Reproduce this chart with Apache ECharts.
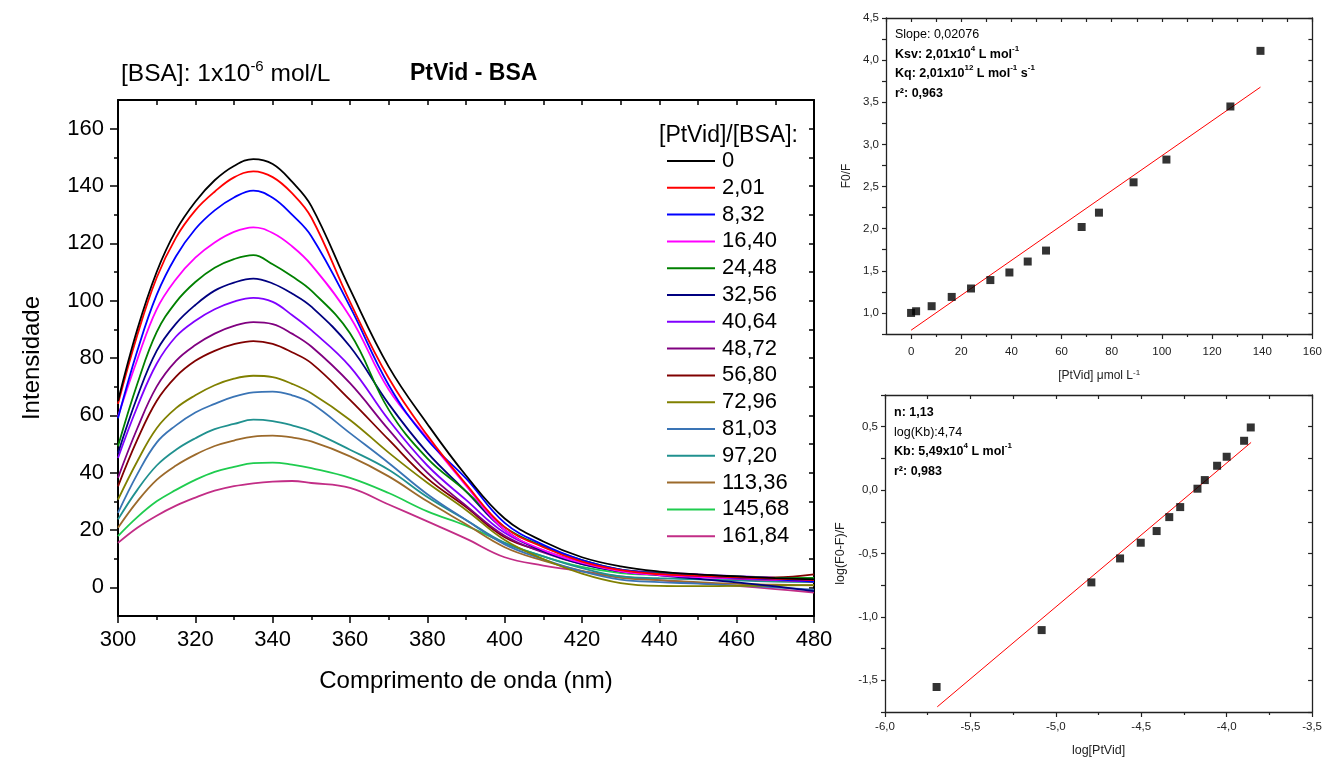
<!DOCTYPE html>
<html>
<head>
<meta charset="utf-8">
<script src="https://cdn.jsdelivr.net/npm/echarts@6/dist/echarts.min.js"></script>
<style>
html,body{margin:0;padding:0;background:#fff;}
#chart{width:1325px;height:758px;}
</style>
</head>
<body>
<div id="chart"></div>
<script>
// ---------- DATA ----------
const wavelengths = [300,305,310,315,320,325,330,335,340,345,350,360,370,380,390,400,410,420,430,440,450,460,470,480];
const ratioLabels = ['0','2,01','8,32','16,40','24,48','32,56','40,64','48,72','56,80','72,96','81,03','97,20','113,36','145,68','161,84'];
const I_0      = [65,90,110,124.5,134.5,142,147,149.4,147.7,141.5,133,104,77,57,39,24,16,10.5,7.3,5.5,4.5,3.8,3.2,2.8];
const I_2_01   = [64,88,108,122,131.5,138,143,145.1,143.1,137.5,129,99.6,73,53,36,21,14,9,6,4.6,4,3.5,3,2.5];
const I_8_32   = [59,82.5,102,115.5,125,131.5,136,138.4,135.9,130,122.5,97.9,70.6,51.5,38,22.5,14.8,9.5,6.2,4.8,4,3.3,2.8,2];
const I_16_40  = [59.6,79.5,97,107.5,115,120.3,124,125.6,123.6,119,112.5,94.4,69,52,35.5,20,13,8.5,5.6,4.3,3.6,3.1,2.6,2.2];
const I_24_48  = [49.2,71,89,99.5,106.5,111.5,114.5,115.9,112.7,108.5,103.5,88.6,62,45,33.5,21,14.3,9.5,6.2,5,4.3,3.8,3.3,3.2];
const I_32_56  = [46.8,66.5,82.5,92,98.5,103.5,106.3,107.7,106,102.5,97.9,84,64,47,33.5,20,12.6,8.1,5.6,4.2,3,1.7,0.3,-1.3];
const I_40_64  = [45.1,63,78,87.5,93,97,99.7,101,99.6,95,89.7,77,58.4,42.5,30.5,19,12.9,8.6,6.2,5.2,4.5,3.9,3.3,2.6];
const I_48_72  = [38.2,55.5,70,79,84.5,88.5,91.2,92.5,91.8,88.5,84,71.2,55,40,28.5,18,12.2,8.1,5.6,4.5,3.7,3,2.5,2];
const I_56_80  = [35.2,51.5,65,73.5,79,82.5,84.8,85.9,84.9,82,78.2,65.4,51.5,38,28,17.5,12.5,8.5,5.6,4.5,3.8,3.5,3.5,4.5];
const I_72_96  = [30.6,44,55.5,62.5,67,70.5,72.8,73.8,73.3,71,67.7,58.4,47,36.5,27,16.5,9.9,4.8,1.5,0.5,0.4,0.5,0.6,0.8];
const I_81_03  = [26,39.5,50.5,56.5,61,64,66.5,68,68.3,67,64.2,53.8,43.4,32.5,23.5,15,9.8,5.6,2.7,1.8,1.3,0.6,0,-0.8];
const I_97_20  = [23.7,34,42.5,48,52,55.2,57,58.5,58,56.5,54.4,48,41,31.5,23.5,15.5,10.8,6.7,3.8,3.2,2.8,2.4,2,1.8];
const I_113_36 = [20.8,30,37.5,42.5,46.3,49.3,51.2,52.6,52.9,52.3,50.9,45.7,38.7,30,22,14,9.3,5.7,3.3,2.5,1.8,1.2,0.9,0.7];
const I_145_68 = [17.9,24.5,30,34,37.5,40.3,42,43.3,43.5,42.8,41.6,38.2,32.9,26.5,21.5,15.5,10.8,7.1,5,4.3,3.8,3.5,3.2,3.3];
const I_161_84 = [15.5,20.8,25,28.5,31.3,33.7,35.3,36.3,36.9,37.1,36.4,34.7,28.9,23,17,10.5,7.6,5.6,3.8,2.5,1.5,0.5,-0.6,-1.8];
const curveColors = ['#000000','#FF0000','#0000FF','#FF00FF','#008000','#000080','#8000FF','#800080','#800000','#808000','#3A74B5','#20918F','#9C6A2B','#1FCC4F','#C22D86'];

const mainYTicks = [0,20,40,60,80,100,120,140,160];
const mainYMinor = [10,30,50,70,90,110,130,150];

// Stern-Volmer
const svConc  = [0, 2.0, 8.2, 16.2, 23.9, 31.6, 39.2, 46.5, 53.8, 68.0, 74.9, 88.7, 101.8, 127.3, 139.3];
const svRatio = [1.00, 1.02, 1.08, 1.19, 1.29, 1.39, 1.48, 1.61, 1.74, 2.02, 2.19, 2.55, 2.82, 3.45, 4.11];
const svFitX = [0, 139.3];
const svFitY = [0.795, 3.68];
const svXTicks = [0,20,40,60,80,100,120,140,160];
const svXMinor = [10,30,50,70,90,110,130,150];
const svYTicks = [1.0,1.5,2.0,2.5,3.0,3.5,4.0,4.5];

// Double-log
const dlLogC = [-5.698, -5.083, -4.792, -4.624, -4.503, -4.410, -4.336, -4.272, -4.171, -4.128, -4.056, -4.0, -3.898, -3.859];
const dlLogF = [-1.553, -1.104, -0.728, -0.539, -0.415, -0.323, -0.213, -0.134, 0.011, 0.079, 0.192, 0.263, 0.389, 0.494];
const dlFitX = [-5.694, -3.857];
const dlFitY = [-1.709, 0.376];
const dlYTicks = [-1.5,-1.0,-0.5,0.0,0.5];

const curves = [I_0,I_2_01,I_8_32,I_16_40,I_24_48,I_32_56,I_40_64,I_48_72,I_56_80,I_72_96,I_81_03,I_97_20,I_113_36,I_145_68,I_161_84];

// ---------- CHART ----------
const FF = 'Liberation Sans, Arial, Helvetica, sans-serif';
const comma1 = v => v.toFixed(1).replace('.', ',');
const zip = (a,b) => a.map((v,i)=>[v,b[i]]);

const chart = echarts.init(document.getElementById('chart'), null, {renderer:'canvas'});

const smallLine = {onZero:false, lineStyle:{color:'#222', width:1.3}};
const hiddenLine = {show:false, onZero:false};

const richSmall = {
  n:{fontFamily:FF, fontSize:12.5, fontWeight:'normal', color:'#000', lineHeight:19.5},
  b:{fontFamily:FF, fontSize:12.5, fontWeight:'bold', color:'#000', lineHeight:19.5},
  s:{fontFamily:FF, fontSize:8, fontWeight:'bold', color:'#000', lineHeight:12, verticalAlign:'top'}
};

const series = [];
curves.forEach((c, i) => {
  series.push({
    name: ratioLabels[i], type:'line', xAxisIndex:0, yAxisIndex:0,
    data: zip(wavelengths, c), symbol:'none', smooth:0.4,
    lineStyle:{width:1.8, color:curveColors[i]}, itemStyle:{color:curveColors[i]},
    z: 20 - i
  });
});
series.push({type:'scatter', xAxisIndex:2, yAxisIndex:3, data: zip(svConc, svRatio), symbol:'rect', symbolSize:8, itemStyle:{color:'#000'}, z:5});
series.push({type:'line', xAxisIndex:2, yAxisIndex:3, data: zip(svFitX, svFitY), symbol:'none', lineStyle:{color:'#FF0000', width:1}, z:4});
series.push({type:'scatter', xAxisIndex:5, yAxisIndex:6, data: zip(dlLogC, dlLogF), symbol:'rect', symbolSize:8, itemStyle:{color:'#000'}, z:5});
series.push({type:'line', xAxisIndex:5, yAxisIndex:6, data: zip(dlFitX, dlFitY), symbol:'none', lineStyle:{color:'#FF0000', width:1}, z:4});

const option = {
  animation:false,
  backgroundColor:'#fff',
  textStyle:{fontFamily:FF},
  title:[
    {left:116, top:54, text:'{n|[BSA]: 1x10}{s|-6}{n| mol/L}',
      textStyle:{fontWeight:'normal', rich:{
        n:{fontFamily:FF, fontSize:24.5, fontWeight:'normal', color:'#000', lineHeight:30},
        s:{fontFamily:FF, fontSize:15, fontWeight:'normal', color:'#000', lineHeight:14, verticalAlign:'top'}
      }}},
    {left:405, top:57, text:'PtVid - BSA', textStyle:{fontFamily:FF, fontSize:23, fontWeight:'bold', color:'#000'}},
    {left:654, top:119, text:'[PtVid]/[BSA]:', textStyle:{fontFamily:FF, fontSize:23, fontWeight:'normal', color:'#000'}},
    {left:890, top:20, text:'{n|Slope: 0,02076}\n{b|Ksv: 2,01x10}{s|4}{b| L mol}{s|-1}\n{b|Kq: 2,01x10}{s|12}{b| L mol}{s|-1}{b| s}{s|-1}\n{b|r²: 0,963}',
      textStyle:{fontWeight:'normal', rich:richSmall}},
    {left:889, top:398, text:'{b|n: 1,13}\n{n|log(Kb):4,74}\n{b|Kb: 5,49x10}{s|4}{b| L mol}{s|-1}\n{b|r²: 0,983}',
      textStyle:{fontWeight:'normal', rich:richSmall}}
  ],
  legend:{
    data: ratioLabels, orient:'vertical', left:667, top:150, padding:0,
    icon:'rect', itemWidth:48, itemHeight:2, itemGap:4.8,
    textStyle:{fontFamily:FF, fontSize:22, color:'#000', padding:[0,0,0,2]},
    selectedMode:false
  },
  grid:[
    {left:118, top:100, width:696, height:516},
    {left:886, top:18, width:427, height:316},
    {left:885, top:395, width:428, height:317}
  ],
  xAxis:[
    // 0 main bottom
    {gridIndex:0, type:'value', position:'bottom', min:300, max:480, interval:20,
      axisLine:{onZero:false, lineStyle:{color:'#000', width:2}},
      axisTick:{show:true, length:7, lineStyle:{color:'#000', width:1.5}},
      minorTick:{show:true, splitNumber:2, length:4, lineStyle:{color:'#000', width:1.5}},
      axisLabel:{fontFamily:FF, fontSize:22, color:'#000', margin:13},
      splitLine:{show:false},
      name:'Comprimento de onda (nm)', nameLocation:'middle', nameGap:53,
      nameTextStyle:{fontFamily:FF, fontSize:24, color:'#000'}},
    // 1 main top
    {gridIndex:0, type:'value', position:'top', min:300, max:480, interval:10,
      axisLine:{onZero:false, lineStyle:{color:'#000', width:2}},
      axisTick:{show:true, inside:true, length:5, lineStyle:{color:'#000', width:1.5}},
      axisLabel:{show:false}, splitLine:{show:false}},
    // 2 SV bottom
    {gridIndex:1, type:'value', position:'bottom', min:-10, max:160, interval:10,
      axisLine:smallLine,
      axisTick:{show:true, length:5, customValues:svXTicks, lineStyle:{color:'#222', width:1.2}},
      axisLabel:{fontFamily:FF, fontSize:11.5, color:'#222', margin:12, customValues:svXTicks},
      splitLine:{show:false},
      name:'[PtVid] μmol L{s|-1}', nameLocation:'middle', nameGap:35,
      nameTextStyle:{fontFamily:FF, fontSize:12, color:'#222', lineHeight:14,
        rich:{s:{fontFamily:FF, fontSize:8, color:'#222', lineHeight:8, verticalAlign:'top'}}}},
    // 3 SV bottom minor
    {gridIndex:1, type:'value', position:'bottom', min:-10, max:160, interval:10,
      axisLine:hiddenLine,
      axisTick:{show:true, length:3, customValues:svXMinor, lineStyle:{color:'#222', width:1.2}},
      axisLabel:{show:false}, splitLine:{show:false}},
    // 4 SV top
    {gridIndex:1, type:'value', position:'top', min:-10, max:160, interval:10,
      axisLine:smallLine,
      axisTick:{show:true, inside:true, length:4, lineStyle:{color:'#222', width:1.2}},
      axisLabel:{show:false}, splitLine:{show:false}},
    // 5 DL bottom
    {gridIndex:2, type:'value', position:'bottom', min:-6, max:-3.5, interval:0.5,
      axisLine:smallLine,
      axisTick:{show:true, length:5, lineStyle:{color:'#222', width:1.2}},
      minorTick:{show:true, splitNumber:2, length:3, lineStyle:{color:'#222', width:1.2}},
      axisLabel:{fontFamily:FF, fontSize:11.5, color:'#222', margin:9, formatter:comma1},
      splitLine:{show:false}, minorSplitLine:{show:false},
      name:'log[PtVid]', nameLocation:'middle', nameGap:32,
      nameTextStyle:{fontFamily:FF, fontSize:12.5, color:'#222'}},
    // 6 DL top
    {gridIndex:2, type:'value', position:'top', min:-6, max:-3.5, interval:0.25,
      axisLine:smallLine,
      axisTick:{show:true, inside:true, length:4, lineStyle:{color:'#222', width:1.2}},
      axisLabel:{show:false}, splitLine:{show:false}}
  ],
  yAxis:[
    // 0 main left
    {gridIndex:0, type:'value', position:'left', min:-10, max:170, interval:10,
      axisLine:{show:true, onZero:false, lineStyle:{color:'#000', width:2}},
      axisTick:{show:true, length:8, customValues:mainYTicks, lineStyle:{color:'#000', width:1.5}},
      axisLabel:{fontFamily:FF, fontSize:22, color:'#000', margin:14, customValues:mainYTicks},
      splitLine:{show:false},
      name:'Intensidade', nameLocation:'middle', nameGap:74,
      nameTextStyle:{fontFamily:FF, fontSize:24, color:'#000'}},
    // 1 main left minor
    {gridIndex:0, type:'value', position:'left', min:-10, max:170, interval:10,
      axisLine:hiddenLine,
      axisTick:{show:true, length:4, customValues:mainYMinor, lineStyle:{color:'#000', width:1.5}},
      axisLabel:{show:false}, splitLine:{show:false}},
    // 2 main right
    {gridIndex:0, type:'value', position:'right', min:-10, max:170, interval:10,
      axisLine:{show:true, onZero:false, lineStyle:{color:'#000', width:2}},
      axisTick:{show:true, inside:true, length:5, lineStyle:{color:'#000', width:1.5}},
      axisLabel:{show:false}, splitLine:{show:false}},
    // 3 SV left
    {gridIndex:1, type:'value', position:'left', min:0.75, max:4.5, interval:0.25,
      axisLine:{show:true, onZero:false, lineStyle:{color:'#222', width:1.3}},
      axisTick:{show:true, length:4, lineStyle:{color:'#222', width:1.2}},
      axisLabel:{fontFamily:FF, fontSize:11.5, color:'#222', margin:7, customValues:svYTicks, formatter:comma1},
      splitLine:{show:false},
      name:'F0/F', nameLocation:'middle', nameGap:33,
      nameTextStyle:{fontFamily:FF, fontSize:12, color:'#222'}},
    // 4 SV right
    {gridIndex:1, type:'value', position:'right', min:0.75, max:4.5, interval:0.25,
      axisLine:{show:true, onZero:false, lineStyle:{color:'#222', width:1.3}},
      axisTick:{show:true, inside:true, length:4, lineStyle:{color:'#222', width:1.2}},
      axisLabel:{show:false}, splitLine:{show:false}},
    // 5 DL right
    {gridIndex:2, type:'value', position:'right', min:-1.75, max:0.75, interval:0.25,
      axisLine:{show:true, onZero:false, lineStyle:{color:'#222', width:1.3}},
      axisTick:{show:true, inside:true, length:4, lineStyle:{color:'#222', width:1.2}},
      axisLabel:{show:false}, splitLine:{show:false}},
    // 6 DL left
    {gridIndex:2, type:'value', position:'left', min:-1.75, max:0.75, interval:0.25,
      axisLine:{show:true, onZero:false, lineStyle:{color:'#222', width:1.3}},
      axisTick:{show:true, length:4, lineStyle:{color:'#222', width:1.2}},
      axisLabel:{fontFamily:FF, fontSize:11.5, color:'#222', margin:7, customValues:dlYTicks, formatter:comma1},
      splitLine:{show:false},
      name:'log(F0-F)/F', nameLocation:'middle', nameGap:38,
      nameTextStyle:{fontFamily:FF, fontSize:12.5, color:'#222'}}
  ],
  series: series
};
chart.setOption(option);
</script>
</body>
</html>
